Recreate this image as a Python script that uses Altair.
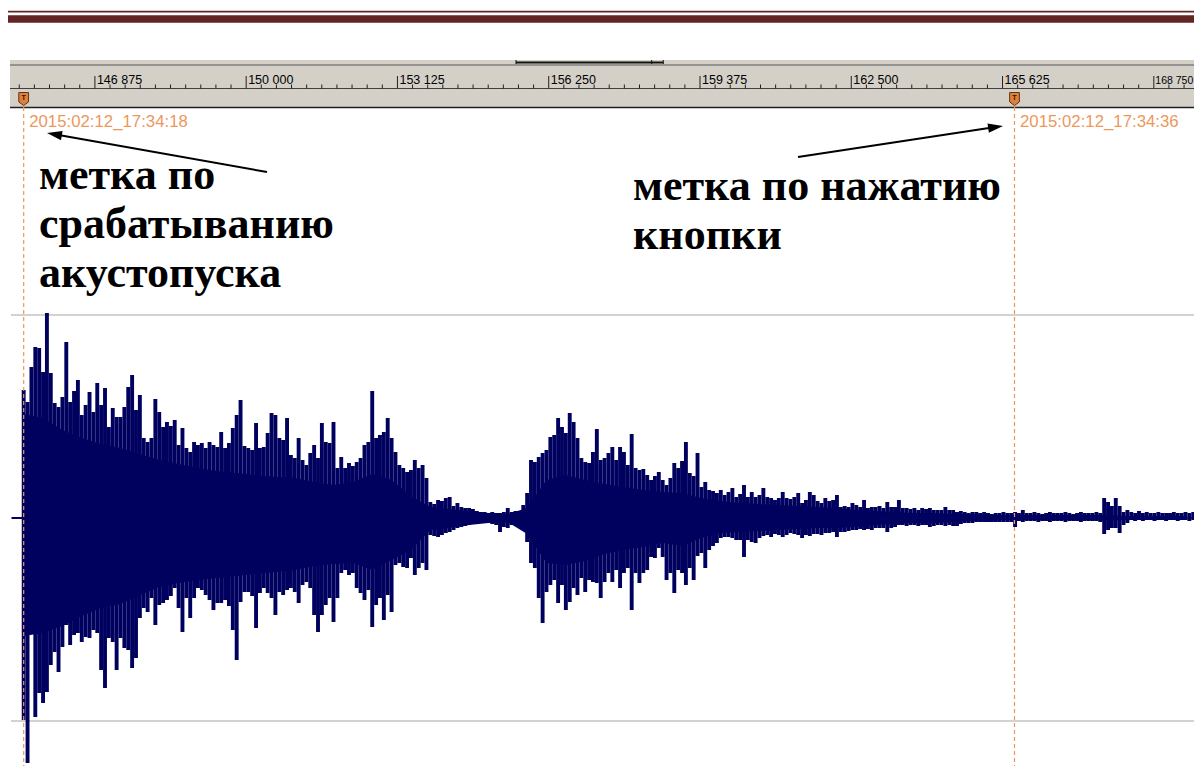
import altair as alt
import pandas as pd

# ---------------- data ----------------
# ruler: sample numbers printed on the time ruler
RULER_MAJOR = [146875, 150000, 153125, 156250, 159375, 162500, 165625, 168750]
MINOR_PER_MAJOR = 10

# markers (sample position and time stamp)
MARK_SAMPLES = [145404, 165872]
MARK_LABELS = ["2015:02:12_17:34:18", "2015:02:12_17:34:36"]

# annotation texts
NOTE_LEFT = ["метка по", "срабатыванию", "акустопуска"]
NOTE_RIGHT = ["метка по нажатию", "кнопки"]

# horizontal guide levels of the waveform view (amplitude units)
GRID_LEVELS = [203, -203]

# waveform: peak envelope, one value every WAVE_STEP samples from WAVE_START
WAVE_START = 145404
WAVE_STEP = 80
WAVE_TOP = [
    128, 116, 151, 171, 170, 146, 205, 145, 115, 111,
    121, 176, 116, 127, 138, 103, 113, 126, 106, 135,
    113, 130, 91, 110, 101, 101, 111, 131, 143, 108,
    123, 80, 76, 80, 119, 106, 91, 96, 92, 98,
    73, 90, 70, 66, 76, 73, 75, 70, 76, 73,
    71, 86, 70, 75, 90, 103, 118, 72, 70, 68,
    95, 70, 71, 85, 105, 103, 80, 78, 100, 63,
    60, 80, 58, 53, 65, 73, 60, 95, 76, 75,
    96, 50, 61, 50, 55, 52, 56, 60, 73, 76,
    127, 80, 83, 86, 100, 80, 66, 53, 50, 46,
    48, 58, 50, 53, 40, 16, 14, 18, 17, 20,
    21, 12, 15, 11, 10, 10, 9, 7, 6, 6,
    5, 6, 5, 5, 6, 10, 6, 7, 5, 13,
    25, 58, 56, 61, 65, 68, 81, 83, 100, 91,
    85, 105, 96, 80, 60, 56, 55, 66, 89, 58,
    60, 65, 71, 58, 71, 66, 53, 84, 50, 48,
    49, 43, 38, 42, 46, 38, 33, 40, 55, 50,
    57, 76, 45, 42, 65, 31, 36, 28, 27, 25,
    28, 23, 26, 30, 21, 24, 33, 21, 26, 21,
    23, 30, 21, 20, 18, 20, 26, 20, 19, 21,
    25, 15, 18, 26, 23, 17, 15, 20, 17, 18,
    23, 11, 12, 11, 15, 13, 11, 18, 10, 11,
    11, 12, 10, 16, 11, 11, 18, 10, 10, 9,
    10, 8, 10, 9, 10, 8, 8, 8, 11, 8,
    8, 6, 7, 6, 5, 6, 6, 5, 6, 5,
    4, 5, 5, 6, 5, 5, 6, 5, 8, 5,
    5, 6, 5, 4, 5, 6, 5, 5, 5, 6,
    5, 4, 5, 6, 5, 5, 5, 6, 5, 20,
    16, 12, 20, 12, 6, 8, 6, 5, 7, 5,
    6, 5, 5, 6, 5, 5, 5, 6, 5, 5,
    6, 5, 6, 5, 6,
]
WAVE_BOT = [
    -202, -245, -105, -199, -175, -185, -174, -147, -134, -154,
    -129, -107, -127, -117, -115, -124, -119, -120, -112, -115,
    -152, -170, -120, -124, -152, -120, -130, -132, -150, -140,
    -100, -90, -94, -80, -107, -87, -85, -82, -78, -70,
    -90, -114, -80, -100, -80, -70, -72, -77, -82, -92,
    -85, -85, -82, -88, -112, -142, -84, -74, -74, -78,
    -110, -75, -70, -75, -80, -97, -74, -77, -72, -70,
    -74, -85, -67, -64, -70, -97, -114, -97, -87, -80,
    -104, -80, -55, -52, -57, -55, -70, -75, -82, -72,
    -109, -87, -80, -102, -77, -94, -47, -45, -49, -50,
    -40, -57, -50, -45, -52, -17, -18, -19, -17, -15,
    -14, -12, -10, -9, -8, -7, -6, -5, -5, -5,
    -5, -6, -7, -14, -9, -10, -7, -6, -4, -9,
    -24, -45, -50, -80, -105, -74, -67, -62, -85, -67,
    -92, -84, -70, -77, -60, -74, -62, -64, -65, -80,
    -64, -55, -64, -52, -70, -55, -50, -92, -55, -65,
    -55, -52, -39, -40, -30, -39, -62, -55, -75, -52,
    -55, -67, -50, -62, -38, -35, -50, -32, -28, -25,
    -20, -19, -19, -20, -22, -22, -39, -22, -24, -25,
    -20, -18, -17, -19, -16, -17, -19, -17, -15, -16,
    -17, -20, -17, -18, -16, -16, -17, -15, -15, -14,
    -19, -14, -14, -13, -12, -12, -11, -12, -11, -12,
    -10, -10, -10, -14, -10, -9, -7, -7, -8, -7,
    -7, -8, -7, -7, -9, -8, -7, -7, -8, -7,
    -8, -8, -6, -5, -5, -5, -4, -4, -4, -4,
    -4, -4, -4, -4, -4, -4, -9, -3, -4, -3,
    -3, -3, -4, -3, -3, -4, -3, -3, -3, -4,
    -3, -3, -3, -4, -3, -3, -3, -3, -4, -16,
    -12, -10, -10, -15, -7, -5, -2, -3, -2, -3,
    -2, -2, -3, -2, -2, -3, -2, -2, -3, -2,
    -2, -3, -2, -2, -3,
]
# waveform: dense core (solid part), one value every CORE_STEP samples
CORE_STEP = 400
CORE_TOP = [
    104, 100, 88, 80, 74, 70, 64, 58, 54, 50,
    47, 45, 43, 41, 40, 36, 33, 36, 44, 38,
    22, 11, 9, 7, 5, 4, 10, 38, 43, 38,
    34, 31, 28, 26, 25, 20, 17, 15, 14, 13,
    12, 11, 10, 8, 7, 6, 5, 5, 4, 4,
    3, 3, 3, 3, 3, 3, 3, 2, 2, 2, 2,
]
CORE_BOT = [
    -118, -115, -108, -98, -90, -86, -77, -69, -65, -62,
    -60, -58, -56, -54, -52, -48, -46, -45, -52, -42,
    -32, -12, -10, -7, -5, -4, -16, -45, -47, -43,
    -36, -32, -29, -25, -28, -20, -15, -14, -13, -12,
    -11, -10, -10, -9, -7, -6, -5, -5, -4, -3,
    -3, -2, -2, -2, -2, -2, -3, -2, -2, -2, -2,
]

# ---------------- layout / style ----------------
W, H = 1186, 758
X_DOMAIN = [145080, 169580]
Y_DOMAIN = [-248, 510]
TAIL_FROM = 163094
NAVY = "#00005f"
ORANGE = "#ec985c"
MAROON = "#632523"
GRAY = "#d4d0c8"
SANS = "Liberation Sans"
SERIF = "Liberation Serif"

xs = alt.Scale(domain=X_DOMAIN, nice=False, zero=False)
ys = alt.Scale(domain=Y_DOMAIN, nice=False, zero=False)


def X(f):
    return alt.X(f, type="quantitative", scale=xs, axis=None)


def Y(f):
    return alt.Y(f, type="quantitative", scale=ys, axis=None)


def one():
    return alt.Data(values=[{"a": 1}])


n = min(len(WAVE_TOP), len(WAVE_BOT))
wave = pd.DataFrame({
    "s": [WAVE_START + i * WAVE_STEP for i in range(n)],
    "top": WAVE_TOP[:n],
    "bot": WAVE_BOT[:n],
})
m = min(len(CORE_TOP), len(CORE_BOT))
core = pd.DataFrame({
    "s": [WAVE_START + j * CORE_STEP for j in range(m)],
    "top": CORE_TOP[:m],
    "bot": CORE_BOT[:m],
})

minor_step = (RULER_MAJOR[1] - RULER_MAJOR[0]) / MINOR_PER_MAJOR
minor = []
k = -5
while True:
    v = RULER_MAJOR[0] + k * minor_step
    if v > X_DOMAIN[1]:
        break
    if k % MINOR_PER_MAJOR != 0:
        minor.append(v)
    k += 1
minor_df = pd.DataFrame({"s": minor})
major_df = pd.DataFrame({
    "s": RULER_MAJOR,
    "label": [f"{v:,}".replace(",", " ") for v in RULER_MAJOR],
})
marks_df = pd.DataFrame({"s": MARK_SAMPLES, "label": MARK_LABELS})
grid_df = pd.DataFrame({"v": GRID_LEVELS})
zero_df = pd.DataFrame({"v": [0]})
tail_df = pd.DataFrame({"s": [TAIL_FROM], "s2": [X_DOMAIN[1]], "v": [0]})

layers = []

# top document rules (maroon)
layers.append(alt.Chart(one()).mark_rule(color=MAROON, strokeWidth=1.8).encode(
    x=alt.value(0), x2=alt.value(W), y=alt.value(3.7)))
layers.append(alt.Chart(one()).mark_rule(color=MAROON, strokeWidth=7.5).encode(
    x=alt.value(0), x2=alt.value(W), y=alt.value(11)))

# ruler background and borders
layers.append(alt.Chart(one()).mark_rect(color=GRAY).encode(
    x=alt.value(2), x2=alt.value(W), y=alt.value(52), y2=alt.value(100)))
layers.append(alt.Chart(one()).mark_rule(color="#555555", strokeWidth=1.2).encode(
    x=alt.value(2), x2=alt.value(W), y=alt.value(57)))
layers.append(alt.Chart(one()).mark_rule(color="#111111", strokeWidth=2).encode(
    x=alt.value(508), x2=alt.value(655), y=alt.value(54.5)))
for xv in (508, 643.7, 655.3):
    layers.append(alt.Chart(one()).mark_rule(color="#111111", strokeWidth=1).encode(
        x=alt.value(xv), y=alt.value(52), y2=alt.value(56)))
layers.append(alt.Chart(one()).mark_rule(color="#404040", strokeWidth=1).encode(
    x=alt.value(2), x2=alt.value(W), y=alt.value(80.5)))
layers.append(alt.Chart(one()).mark_rule(color="#202020", strokeWidth=1.5).encode(
    x=alt.value(2), x2=alt.value(W), y=alt.value(99.5)))

# ruler ticks and labels
layers.append(alt.Chart(minor_df).mark_rule(color="#202020", strokeWidth=1).encode(
    x=X("s"), y=alt.value(76.5), y2=alt.value(80.5)))
layers.append(alt.Chart(major_df).mark_rule(color="#202020", strokeWidth=1).encode(
    x=X("s"), y=alt.value(68), y2=alt.value(80.5)))
layers.append(alt.Chart(major_df.iloc[:-1]).mark_text(
    align="left", baseline="alphabetic", dx=2, font=SANS, fontSize=12.5, color="#000000"
).encode(x=X("s"), y=alt.value(75.5), text=alt.Text("label:N")))
# the last label sits at the window edge: slightly smaller so it stays whole
layers.append(alt.Chart(major_df.iloc[-1:]).mark_text(
    align="left", baseline="alphabetic", dx=1.5, font=SANS, fontSize=10.5, color="#000000"
).encode(x=X("s"), y=alt.value(75.5), text=alt.Text("label:N")))

# grid lines and zero tick
layers.append(alt.Chart(grid_df).mark_rule(color="#d2d2d2", strokeWidth=2).encode(
    x=alt.value(3), x2=alt.value(W), y=Y("v")))
layers.append(alt.Chart(zero_df).mark_rule(color=NAVY, strokeWidth=2).encode(
    x=alt.value(3.5), x2=alt.value(16), y=Y("v")))

# waveform
layers.append(alt.Chart(core).mark_area(color=NAVY, interpolate="linear").encode(
    x=X("s"), y=Y("top"), y2=alt.Y2("bot")))
layers.append(alt.Chart(tail_df).mark_rule(color="#1f1fff", strokeWidth=1.3).encode(
    x=X("s"), x2=alt.X2("s2"), y=Y("v")))
layers.append(alt.Chart(wave).mark_rule(color=NAVY, strokeWidth=3.9).encode(
    x=X("s"), y=Y("top"), y2=alt.Y2("bot")))

# marker dashed lines, flags and time stamps
layers.append(alt.Chart(marks_df).mark_rule(color=ORANGE, strokeWidth=1.2, strokeDash=[4, 3]).encode(
    x=X("s"), y=alt.value(99), y2=alt.value(H)))
layers.append(alt.Chart(marks_df).mark_point(
    shape="M-0.75,-1L0.75,-1L0.75,0.45L0,1L-0.75,0.45Z", size=169, filled=True,
    fill="#e07f3a", stroke="#5e3510", strokeWidth=1, opacity=1
).encode(x=X("s"), y=alt.value(91)))
layers.append(alt.Chart(marks_df).mark_text(
    text="T", font=SANS, fontSize=7, fontWeight="bold", color="#2a1806", baseline="middle", align="center"
).encode(x=X("s"), y=alt.value(89.5)))
layers.append(alt.Chart(marks_df).mark_text(
    align="left", baseline="middle", dx=5.5, font=SANS, fontSize=16.8, color=ORANGE
).encode(x=X("s"), y=alt.value(114), text=alt.Text("label:N")))

# annotation texts
for i, line in enumerate(NOTE_LEFT):
    layers.append(alt.Chart(one()).mark_text(
        text=line, align="left", baseline="alphabetic", font=SERIF, fontSize=44,
        fontWeight="bold", color="#000000"
    ).encode(x=alt.value(31), y=alt.value(181 + 49 * i)))
for i, line in enumerate(NOTE_RIGHT):
    layers.append(alt.Chart(one()).mark_text(
        text=line, align="left", baseline="alphabetic", font=SERIF, fontSize=44,
        fontWeight="bold", color="#000000"
    ).encode(x=alt.value(625), y=alt.value(192 + 49 * i)))

# arrows
ARROWS = [
    # tail x, tail y, head centre x, head centre y, angle
    (259, 164, 46.4, 126.3, 280),
    (790, 149, 987.6, 119.1, 81.4),
]
for tx, ty, hx, hy, ang in ARROWS:
    layers.append(alt.Chart(one()).mark_rule(color="#000000", strokeWidth=2).encode(
        x=alt.value(tx), y=alt.value(ty), x2=alt.value(hx), y2=alt.value(hy)))
    layers.append(alt.Chart(one()).mark_point(
        shape="M0,-1L0.62,1L-0.62,1Z", size=225, filled=True, color="#000000",
        opacity=1, angle=ang
    ).encode(x=alt.value(hx), y=alt.value(hy)))

chart = alt.layer(*layers).properties(
    width=W, height=H, padding=0,
    autosize=alt.AutoSizeParams(type="none"), background="white"
).configure_view(stroke=None)

chart.save("out.html", embed_options={"renderer": "svg", "actions": False})
